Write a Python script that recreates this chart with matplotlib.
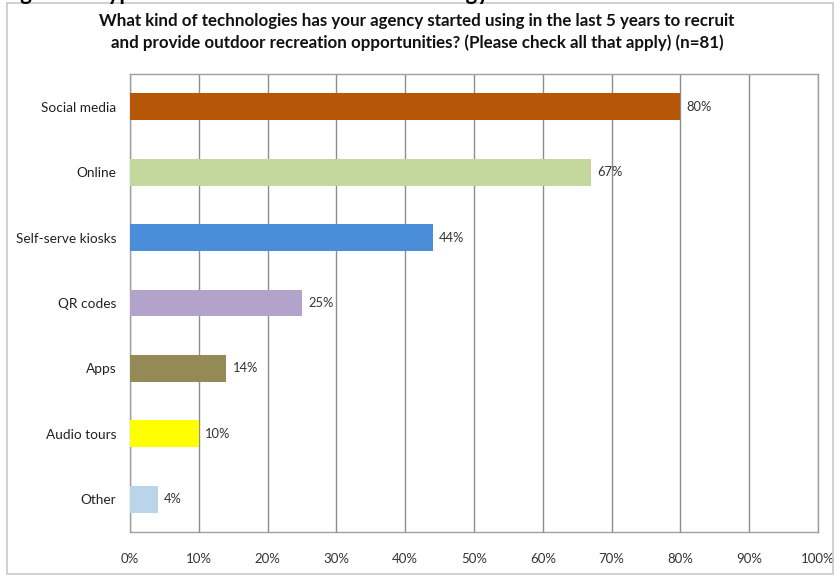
import matplotlib.pyplot as plt
from matplotlib.patches import Rectangle

categories = ["Social media", "Online", "Self-serve kiosks", "QR codes", "Apps", "Audio tours", "Other"]
values = [80, 67, 44, 25, 14, 10, 4]
colors = ["#B65708", "#C4D79C", "#4A8ED9", "#B3A3CB", "#948A55", "#FFFF00", "#B9D5EA"]
xticks = [0, 10, 20, 30, 40, 50, 60, 70, 80, 90, 100]
xtick_labels = [f"{t}%" for t in xticks]
title = ("What kind of technologies has your agency started using in the last 5 years to recruit\n"
         "and provide outdoor recreation opportunities? (Please check all that apply) (n=81)")
heading = "Figure 8. Types of outdoor recreation technology"

plt.rcParams['font.family'] = ['Lato', 'DejaVu Sans']

W, H = 838, 577
fig = plt.figure(figsize=(W / 100, H / 100), dpi=100)
fig.patch.set_facecolor("white")

# outer chart frame
fig.patches.append(Rectangle((7 / W, 3 / H), 826 / W, 571 / H, transform=fig.transFigure,
                             fill=False, edgecolor="#C8C8C8", linewidth=1.2))

# page heading running off the top edge
fig.text(2 / W, 1 + 0.5 / H, heading, ha="left", va="baseline", fontsize=16,
         fontweight="bold", color="black")

ax = fig.add_axes([130 / W, 1 - 532 / H, (818 - 130) / W, (532 - 74) / H])
ypos = list(range(len(categories)))
ax.barh(ypos, values, height=0.41, color=colors, zorder=3)
ax.set_ylim(len(categories) - 0.5, -0.5)
ax.set_xlim(0, 100)
ax.set_xticks(xticks)
ax.set_xticklabels(xtick_labels, fontsize=9.5, color="#333333")
ax.tick_params(axis="both", length=0)
ax.tick_params(axis="x", pad=15)
ax.set_yticks(ypos)
ax.set_yticklabels(categories, fontsize=9.8, color="#222222")
ax.tick_params(axis="y", pad=10)
ax.grid(axis="x", color="#8C8C8C", linewidth=1.0, zorder=1)
for s in ax.spines.values():
    s.set_color("#A0A0A0")
    s.set_linewidth(1.0)

for y, v in zip(ypos, values):
    ax.text(v + 0.9, y, f"{v}%", va="center", ha="left", fontsize=9.3, color="#333333", zorder=4)

fig.text(417 / W, 1 - 32 / H, title, ha="center", va="center", fontsize=12.2,
         fontweight="bold", color="#111111", linespacing=1.45)

fig.savefig("out.png", dpi=100)
